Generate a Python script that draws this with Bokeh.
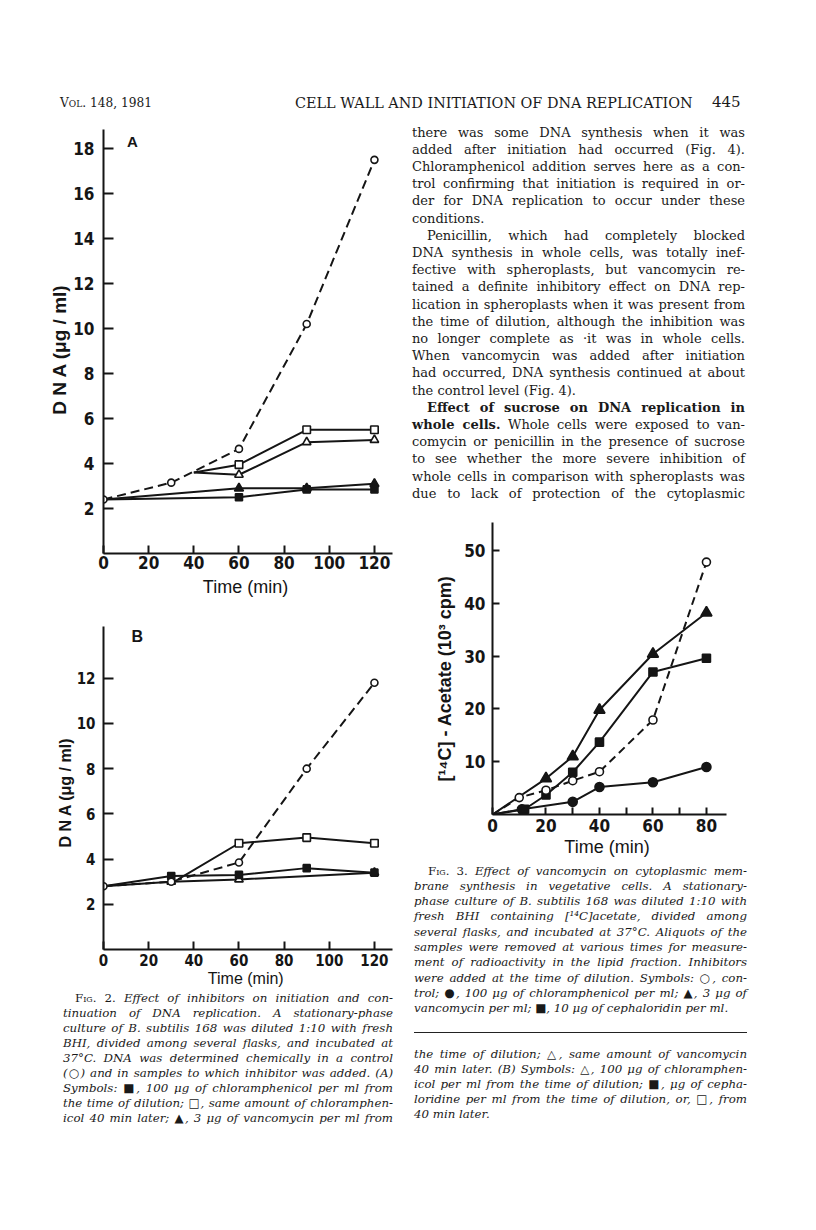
from bokeh.plotting import figure
from bokeh.models import FixedTicker, Label, Div, Range1d
from bokeh.layouts import row, column
from bokeh.embed import file_html
from bokeh.resources import INLINE

# ---------------- data: Fig. 2A (DNA, ug/ml vs time, min) ----------------
A_T_CTRL = [0, 30, 60, 90, 120]
A_CTRL = [2.4, 3.15, 4.65, 10.2, 17.5]
A_T_CHL_LATE = [40, 60, 90, 120]
A_CHL_LATE = [3.6, 3.95, 5.5, 5.5]
A_T_VAN_LATE = [40, 60, 90, 120]
A_VAN_LATE = [3.6, 3.5, 4.95, 5.05]
A_T_CHL = [0, 60, 90, 120]
A_CHL = [2.4, 2.5, 2.85, 2.85]
A_T_VAN = [0, 60, 90, 120]
A_VAN = [2.4, 2.9, 2.9, 3.1]
A_XTICKS = [0, 20, 40, 60, 80, 100, 120]
A_YTICKS = [2, 4, 6, 8, 10, 12, 14, 16, 18]

# ---------------- data: Fig. 2B ----------------
B_T_CTRL = [0, 30, 60, 90, 120]
B_CTRL = [2.8, 3.0, 3.85, 8.0, 11.8]
B_T_CEPH_LATE = [33, 60, 90, 120]
B_CEPH_LATE = [3.1, 4.7, 4.95, 4.7]
B_T_CEPH = [0, 30, 60, 90, 120]
B_CEPH = [2.8, 3.25, 3.3, 3.6, 3.4]
B_T_CHL = [0, 30, 60, 120]
B_CHL = [2.8, 3.0, 3.1, 3.4]
B_XTICKS = [0, 20, 40, 60, 80, 100, 120]
B_YTICKS = [2, 4, 6, 8, 10, 12]

# ---------------- data: Fig. 3 ([14C]-acetate, 10^3 cpm) ----------------
C_T_CTRL = [0, 10, 20, 30, 40, 60, 80]
C_CTRL = [0, 3.2, 4.6, 6.4, 8.1, 17.9, 47.8]
C_T_CHL = [0, 11, 30, 40, 60, 80]
C_CHL = [0, 1.0, 2.4, 5.2, 6.1, 9.0]
C_T_VAN = [0, 20, 30, 40, 60, 80]
C_VAN = [0, 6.8, 11.0, 19.8, 30.4, 38.2]
C_T_CEPH = [0, 12, 20, 30, 40, 60, 80]
C_CEPH = [0, 1.0, 3.7, 8.0, 13.7, 27.0, 29.6]
C_XTICKS = [0, 20, 40, 60, 80]
C_XMINOR = [10, 30, 50, 70]
C_YTICKS = [10, 20, 30, 40, 50]

INK = "#151515"
TICK_FONT = "DejaVu Sans Condensed"
LABEL_FONT = "Liberation Sans"


def make_fig(x_end, y_end, fw, fh, bl, br, bt, bb):
    p = figure(x_range=Range1d(0, x_end), y_range=Range1d(0, y_end),
               frame_width=fw, frame_height=fh,
               min_border_left=bl, min_border_right=br,
               min_border_top=bt, min_border_bottom=bb,
               output_backend="svg", toolbar_location=None)
    p.grid.visible = False
    p.outline_line_color = None
    return p


def style_axis(ax, ticks, minor, tick_len, fsize, standoff, label, lsize, lstand, lstyle):
    ax.ticker = FixedTicker(ticks=ticks, minor_ticks=minor)
    ax.axis_line_width = 2
    ax.axis_line_color = INK
    ax.major_tick_in = tick_len
    ax.major_tick_out = 0
    ax.major_tick_line_width = 2
    ax.major_tick_line_color = INK
    ax.minor_tick_in = tick_len
    ax.minor_tick_out = 0
    ax.minor_tick_line_width = 2
    ax.minor_tick_line_color = INK if minor else None
    ax.major_label_text_font = TICK_FONT
    ax.major_label_text_font_style = "bold"
    ax.major_label_text_font_size = f"{fsize}px"
    ax.major_label_text_color = INK
    ax.major_label_standoff = standoff
    ax.axis_label = label
    ax.axis_label_text_font = LABEL_FONT
    ax.axis_label_text_font_style = lstyle
    ax.axis_label_text_font_size = f"{lsize}px"
    ax.axis_label_text_color = INK
    ax.axis_label_standoff = lstand


def solid(p, x, y, lw=2):
    p.line(x, y, line_width=lw, line_color=INK)


def dashed(p, x, y, dash, lw=2):
    p.line(x, y, line_width=lw, line_color=INK, line_dash=dash)


def marks(p, x, y, marker, size, filled):
    p.scatter(x, y, marker=marker, size=size, line_color=INK, line_width=1.6,
              fill_color=INK if filled else "white")


# ---------------- Fig 2A ----------------
pa = make_fig(128, 18.85, 289, 424, 95, 8, 11, 45)
style_axis(pa.xaxis[0], A_XTICKS, [], 8, 17, 2, "Time  (min)", 18, 5, "normal")
style_axis(pa.yaxis[0], A_YTICKS, [], 10, 17, 9, "D N A    (\u03bcg / ml)", 19, 0, "bold")
solid(pa, A_T_CHL, A_CHL)
solid(pa, A_T_VAN, A_VAN)
solid(pa, A_T_CHL_LATE, A_CHL_LATE)
solid(pa, A_T_VAN_LATE, A_VAN_LATE)
dashed(pa, A_T_CTRL, A_CTRL, "9 5")
marks(pa, A_T_CHL[1:], A_CHL[1:], "square", 7, True)
marks(pa, A_T_VAN[1:], A_VAN[1:], "triangle", 9, True)
marks(pa, A_T_CHL_LATE[1:], A_CHL_LATE[1:], "square", 7.5, False)
marks(pa, A_T_VAN_LATE[1:], A_VAN_LATE[1:], "triangle", 8.5, False)
marks(pa, A_T_CTRL, A_CTRL, "circle", 7, False)
pa.add_layout(Label(x=12.8, y=18.3, text="A", text_font=LABEL_FONT, text_font_style="bold",
                    text_font_size="15px", text_color=INK, text_align="center",
                    text_baseline="middle"))

# ---------------- Fig 2B ----------------
pb = make_fig(128, 14.29, 289, 323, 95, 8, 27, 40)
style_axis(pb.xaxis[0], B_XTICKS, [], 8, 15, 4, "Time  (min)", 16, 1, "normal")
style_axis(pb.yaxis[0], B_YTICKS, [], 10, 15, 8, "D N A   (\u03bcg / ml)", 16, 0, "bold")
solid(pb, B_T_CHL, B_CHL)
solid(pb, B_T_CEPH, B_CEPH)
solid(pb, B_T_CEPH_LATE, B_CEPH_LATE)
dashed(pb, B_T_CTRL, B_CTRL, "9 5")
marks(pb, B_T_CHL[1:], B_CHL[1:], "triangle", 8.5, False)
marks(pb, B_T_CEPH[1:], B_CEPH[1:], "square", 7, True)
marks(pb, B_T_CEPH_LATE[1:], B_CEPH_LATE[1:], "square", 7.5, False)
marks(pb, B_T_CTRL, B_CTRL, "circle", 7, False)
pb.add_layout(Label(x=15, y=13.85, text="B", text_font=LABEL_FONT, text_font_style="bold",
                    text_font_size="16px", text_color=INK, text_align="center",
                    text_baseline="middle"))

# ---------------- Fig 3 ----------------
pc = make_fig(87.5, 55.3, 234, 292, 92, 82, 17, 46)
style_axis(pc.xaxis[0], C_XTICKS, C_XMINOR, 7, 17, 4, "Time  (min)", 18, 2, "normal")
style_axis(pc.yaxis[0], C_YTICKS, [], 7, 17, 7, "[\u00b9\u2074C] - Acetate     (10\u00b3 cpm)", 18, 6, "bold")
solid(pc, C_T_CHL, C_CHL)
solid(pc, C_T_VAN, C_VAN)
solid(pc, C_T_CEPH, C_CEPH)
dashed(pc, C_T_CTRL, C_CTRL, "8 5")
marks(pc, C_T_CHL[1:], C_CHL[1:], "circle", 9, True)
marks(pc, C_T_VAN[1:], C_VAN[1:], "triangle", 11, True)
marks(pc, C_T_CEPH[1:], C_CEPH[1:], "square", 8, True)
marks(pc, C_T_CTRL[1:], C_CTRL[1:], "circle", 8, False)

# ---------------- text blocks ----------------
SERIF = "'DejaVu Serif', serif"


def line(html, x, cy, w, size, lh, italic=False, justify=True):
    top = cy - lh / 2
    last = "justify" if justify else "left"
    st = "italic" if italic else "normal"
    return (f'<div style="position:absolute;left:{x}px;top:{top:.1f}px;width:{w}px;'
            f'font-family:{SERIF};font-size:{size}px;line-height:{lh}px;font-style:{st};'
            f'white-space:nowrap;text-align:justify;text-align-last:{last};color:#1a1a1a;">{html}</div>')


def block(parts, W, H):
    inner = "".join(parts)
    return Div(text=f'<div style="position:relative;width:{W}px;height:{H}px;overflow:visible;">{inner}</div>',
               width=W, height=H, margin=0)


SC = '<span style="font-variant:small-caps">'

# header (page origin 8,8)
hdr = [
    f'<div style="position:absolute;left:52px;top:87px;font-family:{SERIF};font-size:12.2px;line-height:16px;color:#1a1a1a;white-space:nowrap;">V{SC}ol</span>. 148, 1981</div>',
    f'<div style="position:absolute;left:287px;top:87px;width:396px;font-family:{SERIF};font-size:14.4px;line-height:16px;color:#1a1a1a;white-space:nowrap;text-align:justify;text-align-last:justify;">CELL WALL AND INITIATION OF DNA REPLICATION</div>',
    f'<div style="position:absolute;left:704px;top:86px;font-family:{SERIF};font-size:15px;line-height:16px;color:#1a1a1a;white-space:nowrap;">445</div>',
]
header = block(hdr, 800, 110)

# right column body text (page origin 400,118)
body_lines = [
    ("there was some DNA synthesis when it was", 0, True),
    ("added after initiation had occurred (Fig. 4).", 0, True),
    ("Chloramphenicol addition serves here as a con-", 0, True),
    ("trol confirming that initiation is required in or-", 0, True),
    ("der for DNA replication to occur under these", 0, True),
    ("conditions.", 0, False),
    ("Penicillin, which had completely blocked", 15, True),
    ("DNA synthesis in whole cells, was totally inef-", 0, True),
    ("fective with spheroplasts, but vancomycin re-", 0, True),
    ("tained a definite inhibitory effect on DNA rep-", 0, True),
    ("lication in spheroplasts when it was present from", 0, True),
    ("the time of dilution, although the inhibition was", 0, True),
    ("no longer complete as \u00b7it was in whole cells.", 0, True),
    ("When vancomycin was added after initiation", 0, True),
    ("had occurred, DNA synthesis continued at about", 0, True),
    ("the control level (Fig. 4).", 0, False),
    ("<b>Effect of sucrose on DNA replication in</b>", 15, True),
    ("<b>whole cells.</b> Whole cells were exposed to van-", 0, True),
    ("comycin or penicillin in the presence of sucrose", 0, True),
    ("to see whether the more severe inhibition of", 0, True),
    ("whole cells in comparison with spheroplasts was", 0, True),
    ("due to lack of protection of the cytoplasmic", 0, True),
]
body = block([line(t, 12 + ind, 14 + 17.2 * i, 333 - ind, 13, 17, False, j)
              for i, (t, ind, j) in enumerate(body_lines)], 408, 387)

# left caption (page origin 8,988)
cap2_lines = [
    (f'<span style="font-style:normal">F{SC}ig</span>. 2.</span> Effect of inhibitors on initiation and con-', 12, True),
    ("tinuation of DNA replication. A stationary-phase", 0, True),
    ("culture of B. subtilis 168 was diluted 1:10 with fresh", 0, True),
    ("BHI, divided among several flasks, and incubated at", 0, True),
    ("37\u00b0C. DNA was determined chemically in a control", 0, True),
    ("(\u25cb) and in samples to which inhibitor was added. (A)", 0, True),
    ("Symbols: \u25a0, 100 \u03bcg of chloramphenicol per ml from", 0, True),
    ("the time of dilution; \u25a1, same amount of chloramphen-", 0, True),
    ("icol 40 min later; \u25b2, 3 \u03bcg of vancomycin per ml from", 0, True),
]
cap2 = block([line(t, 55 + ind, 9 + 15.1 * i, 330 - ind, 11.8, 15, True, j)
              for i, (t, ind, j) in enumerate(cap2_lines)], 392, 180)

# right caption (page origin 400,860)
cap3_lines = [
    (f'<span style="font-style:normal">F{SC}ig</span>. 3.</span> Effect of vancomycin on cytoplasmic mem-', 14, True),
    ("brane synthesis in vegetative cells. A stationary-", 0, True),
    ("phase culture of B. subtilis 168 was diluted 1:10 with", 0, True),
    ("fresh BHI containing [\u00b9\u2074C]acetate, divided among", 0, True),
    ("several flasks, and incubated at 37\u00b0C. Aliquots of the", 0, True),
    ("samples were removed at various times for measure-", 0, True),
    ("ment of radioactivity in the lipid fraction. Inhibitors", 0, True),
    ("were added at the time of dilution. Symbols: \u25cb, con-", 0, True),
    ("trol; \u25cf, 100 \u03bcg of chloramphenicol per ml; \u25b2, 3 \u03bcg of", 0, True),
    ("vancomycin per ml; \u25a0, 10 \u03bcg of cephaloridin per ml.", 0, False),
]
cont_lines = [
    ("the time of dilution; \u25b3, same amount of vancomycin", True),
    ("40 min later. (B) Symbols: \u25b3, 100 \u03bcg of chloramphen-", True),
    ("icol per ml from the time of dilution; \u25a0, \u03bcg of cepha-", True),
    ("loridine per ml from the time of dilution, or, \u25a1, from", True),
    ("40 min later.", False),
]
parts3 = [line(t, 14 + ind, 11 + 15.3 * i, 333 - ind, 11.8, 15, True, j)
          for i, (t, ind, j) in enumerate(cap3_lines)]
parts3.append('<div style="position:absolute;left:14px;top:172px;width:333px;height:0;border-top:1.5px solid #222;"></div>')
parts3 += [line(t, 14, 194 + 15 * i, 333, 11.8, 15, True, j) for i, (t, j) in enumerate(cont_lines)]
cap3 = block(parts3, 408, 280)

left_col = column(pa, pb, cap2, spacing=0)
right_col = column(body, pc, cap3, spacing=0)
page = column(header, row(left_col, right_col, spacing=0), spacing=0, margin=(8, 8, 8, 8))

open("out.html", "w").write(file_html(page, INLINE))
